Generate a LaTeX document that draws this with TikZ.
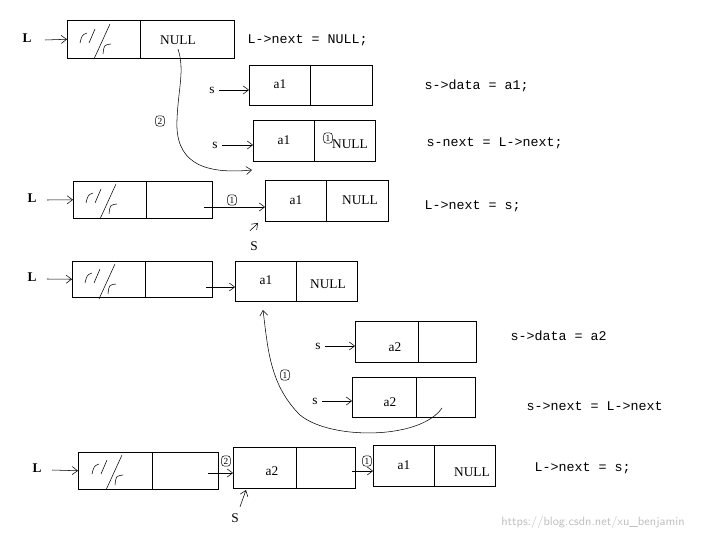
\documentclass[tikz,border=0pt]{standalone}
\usepackage{fontspec}
\setmainfont{Liberation Serif}
\newfontfamily\codefont{Liberation Mono}
\usetikzlibrary{arrows.meta}
\begin{document}
\begin{tikzpicture}[x=0.75pt,y=-0.75pt,
  box/.style={draw,thin,inner sep=0,anchor=north west},
  lab/.style={font=\normalsize},
  code/.style={font=\codefont\normalsize,anchor=west},
  ar/.style={-{Straight Barb[length=4pt,width=6pt]},thin},
  stepmark/.style={draw,rounded corners=2pt,inner sep=1.5pt,font=\scriptsize},
  hand/.style={thin}]
\useasboundingbox (0,0) rectangle (720,541);
\newcommand\mybox[6]{% name x1 y1 x2 y2 divider
  \node[box,minimum width={(#4-#2)*0.75pt},minimum height={(#5-#3)*0.75pt}] (#1) at (#2,#3) {};
  \draw[thin] (#6,#3) -- (#6,#5);}
\newcommand\myhatch[2]{% x y of hatch center
  \begin{scope}[shift={(#1,#2)}]
  \draw[hand] (-20,4) .. controls (-18,-4) .. (-13,-6);
  \draw[hand] (-11,4) -- (-5,-10);
  \draw[hand] (-6,20) -- (10,-15);
  \draw[hand] (3,15) .. controls (4,6) .. (11,5);
  \end{scope}}
% Row 1
\mybox{b1}{67}{20}{234}{58}{140}
\myhatch{100}{39}
\node[lab] (n1) at (178,40) {NULL};
\node[lab] (L1) at (27,38) {\textbf{L}};
\draw[ar] (L1) ++(18,2) coordinate (l1s) (l1s) -- (b1.west);
\node[code] (t1) at (243,40) {L->next = NULL;};
% Row 2
\mybox{b2}{249}{65}{372}{105}{310}
\node[lab] (a12) at (280,84) {a1};
\node[lab] (s2) at (212,90) {s};
\draw[ar] (s2.east) -- (b2.west|-s2.east);
\node[code] (t2) at (420,86) {s->data = a1;};
% Row 3
\mybox{b3}{253}{120}{375}{161}{314}
\node[lab] (a13) at (284,140) {a1};
\node[lab] (n3) at (350,144) {NULL};
\node[lab] (s3) at (215,145) {s};
\draw[ar] (s3.east) -- (b3.west|-s3.east);
\node[code] (t3) at (422,143) {s-next = L->next;};
\node[stepmark] (c3) at (328,138) {1};
\coordinate (e3) at (252,170);
\draw[ar] (n1.south) .. controls (185,70) and (178,90) .. (177,120) .. controls (175,160) and (200,175) .. (e3);
\node[stepmark] (c2) at (160,121) {2};
% Row 4
\mybox{b4}{73}{181}{212}{218}{146}
\myhatch{106}{199}
\node[lab] (L4) at (32,198) {\textbf{L}};
\draw[ar] (L4) ++(15,2) coordinate (l4s) (l4s) -- (b4.west);
\mybox{b5}{265}{180}{388}{221}{326}
\node[lab] (a15) at (296,200) {a1};
\node[lab] (n5) at (360,200) {NULL};
\coordinate (p4) at (204,207);
\draw[ar] (p4) -- (b5.west|-p4);
\node[stepmark] (c4) at (232,200) {1};
\node[code] (t4) at (420,206) {L->next = s;};
\node[lab] (S4) at (254,246) {S};
\draw[ar] (S4.north) ++(-4,-6) coordinate (s4s) (s4s) -- (258,223);
% Row 5
\mybox{b6}{72}{261}{212}{297}{145}
\myhatch{105}{279}
\node[lab] (L6) at (32,277) {\textbf{L}};
\draw[ar] (L6) ++(15,2) coordinate (l6s) (l6s) -- (b6.west);
\mybox{b7}{235}{261}{357}{301}{296}
\node[lab] (a17) at (266,280) {a1};
\node[lab] (n7) at (328,284) {NULL};
\coordinate (p6) at (206,287);
\draw[ar] (p6) -- (b7.west|-p6);
% a2 boxes
\mybox{b8}{355}{321}{476}{362}{418}
\node[lab] (a28) at (395,347) {a2};
\node[lab] (s8) at (318,346) {s};
\draw[ar] (s8.east) -- (b8.west|-s8.east);
\node[code] (t8) at (506,336) {s->data = a2};
\mybox{b9}{352}{377}{475}{417}{416}
\node[lab] (a29) at (390,402) {a2};
\node[lab] (s9) at (315,401) {s};
\draw[ar] (s9.east) -- (b9.west|-s9.east);
\node[code] (t9) at (522,406) {s->next = L->next};
\coordinate (q9) at (442,408);
\coordinate (e7) at (263,310);
\draw[ar] (q9) .. controls (420,440) and (330,440) .. (300,415) .. controls (270,385) and (268,350) .. (e7);
\node[stepmark] (c9) at (285,375) {1};
% bottom row
\mybox{b10}{78}{452}{218}{489}{152}
\myhatch{112}{470}
\node[lab] (L10) at (37,468) {\textbf{L}};
\draw[ar] (L10) ++(15,2) coordinate (l10s) (l10s) -- (b10.west);
\mybox{b11}{233}{447}{355}{488}{296}
\node[lab] (a211) at (272,471) {a2};
\mybox{b12}{373}{445}{495}{486}{434}
\node[lab] (a112) at (404,465) {a1};
\node[lab] (n12) at (472,472) {NULL};
\coordinate (p10) at (208,473);
\draw[ar] (p10) -- (b11.west|-p10);
\coordinate (p11) at (352,471);
\draw[ar] (p11) -- (b12.west|-p11);
\node[stepmark] (c10) at (226,461) {2};
\node[stepmark] (c11) at (367,461) {1};
\node[lab] (S11) at (235,518) {S};
\draw[ar] (S11.north) ++(5,-2) coordinate (s11s) (s11s) -- (246,490);
\node[code] (t11) at (530,468) {L->next = s;};
\node[font=\sffamily\small,text=black!25] (wm) at (593,522) {https://blog.csdn.net/xu\_benjamin};
\end{tikzpicture}
\end{document}
